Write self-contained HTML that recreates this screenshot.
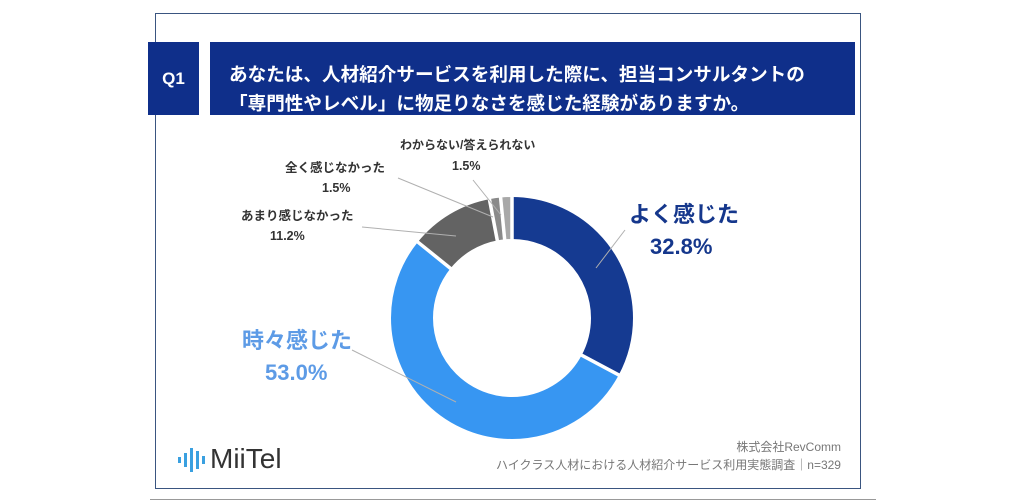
<!DOCTYPE html>
<html><head><meta charset="utf-8"><style>
body{margin:0;width:1024px;height:503px;background:#fff;overflow:hidden;position:relative;font-family:"Liberation Sans","Noto Sans CJK JP",sans-serif}
.a{position:absolute;white-space:nowrap}
</style></head><body>
<div class="a" style="left:155px;top:13px;width:706px;height:476px;border:1.5px solid #3a5580;box-sizing:border-box"></div>
<div class="a" style="left:150px;top:499px;width:726px;height:1px;background:#999"></div>
<div class="a" style="left:148px;top:42px;width:51px;height:73px;background:#0f2f8a;color:#fff;font-weight:bold;font-size:17px;line-height:73px;text-align:center">Q1</div>
<div class="a" style="left:210px;top:42px;width:645px;height:73px;background:#0f2f8a"></div>
<div class="a" style="left:229px;top:60px;color:#fff;font-weight:bold;font-size:18.6px;line-height:29px">あなたは、人材紹介サービスを利用した際に、担当コンサルタントの<br>「専門性やレベル」に物足りなさを感じた経験がありますか。</div>
<svg class="a" style="left:0;top:0" width="1024" height="503">
<g transform="rotate(-90 512 318)" fill="none" stroke-width="42">
<circle cx="512" cy="318" r="100" stroke="#153a91" stroke-dasharray="206.09 628.32" stroke-dashoffset="0"/>
<circle cx="512" cy="318" r="100" stroke="#3796f2" stroke-dasharray="333.01 628.32" stroke-dashoffset="-206.09"/>
<circle cx="512" cy="318" r="100" stroke="#636363" stroke-dasharray="70.37 628.32" stroke-dashoffset="-539.10"/>
<circle cx="512" cy="318" r="100" stroke="#8a8a8a" stroke-dasharray="9.43 628.32" stroke-dashoffset="-609.47"/>
<circle cx="512" cy="318" r="100" stroke="#a8a8a8" stroke-dasharray="9.43 628.32" stroke-dashoffset="-618.90"/>
</g>
<g stroke="#fff" stroke-width="3.5">
<line x1="512" y1="195" x2="512" y2="241"/>
<line x1="620.6" y1="375.9" x2="580" y2="354.3"/>
<line x1="416.3" y1="240.8" x2="452" y2="269.6"/>
<line x1="489" y1="197" x2="497.6" y2="242"/>
<line x1="500.4" y1="195.5" x2="504.8" y2="241"/>
</g>
<g stroke="#b0b0b0" stroke-width="1">
<line x1="473" y1="180" x2="501" y2="215"/>
<line x1="398" y1="178" x2="493" y2="217"/>
<line x1="362" y1="227" x2="456" y2="236"/>
<line x1="352" y1="350" x2="456" y2="402"/>
<line x1="596" y1="268" x2="625" y2="230"/>
</g>
</svg>
<div class="a" style="left:400px;top:136px;font-size:12px;font-weight:bold;color:#333">わからない/答えられない</div>
<div class="a" style="left:452px;top:159px;font-size:12.5px;font-weight:bold;color:#333">1.5%</div>
<div class="a" style="left:285px;top:157px;font-size:12.5px;font-weight:bold;color:#333">全く感じなかった</div>
<div class="a" style="left:322px;top:181px;font-size:12.5px;font-weight:bold;color:#333">1.5%</div>
<div class="a" style="left:241px;top:205px;font-size:12.5px;font-weight:bold;color:#333">あまり感じなかった</div>
<div class="a" style="left:270px;top:229px;font-size:12.5px;font-weight:bold;color:#333">11.2%</div>
<div class="a" style="left:629px;top:197px;font-size:22px;font-weight:bold;color:#15378c">よく感じた</div>
<div class="a" style="left:650px;top:234px;font-size:22px;font-weight:bold;color:#15378c">32.8%</div>
<div class="a" style="left:242px;top:323px;font-size:22px;font-weight:bold;color:#5d9be6">時々感じた</div>
<div class="a" style="left:265px;top:360px;font-size:22px;font-weight:bold;color:#5d9be6">53.0%</div>
<svg class="a" style="left:178px;top:448px" width="40" height="24">
<rect x="0" y="9" width="3" height="6" fill="#3aa0e0"/><rect x="6" y="5" width="3" height="14" fill="#3aa0e0"/><rect x="12" y="0" width="3" height="24" fill="#3aa0e0"/><rect x="18" y="3" width="3" height="18" fill="#3aa0e0"/><rect x="24" y="8" width="3" height="8" fill="#3aa0e0"/>
</svg>
<div class="a" style="left:210px;top:443px;font-size:28px;color:#333">MiiTel</div>
<div class="a" style="right:183px;top:438px;font-size:12px;color:#777;text-align:right;line-height:18px">株式会社RevComm<br>ハイクラス人材における人材紹介サービス利用実態調査｜n=329</div>
</body></html>
